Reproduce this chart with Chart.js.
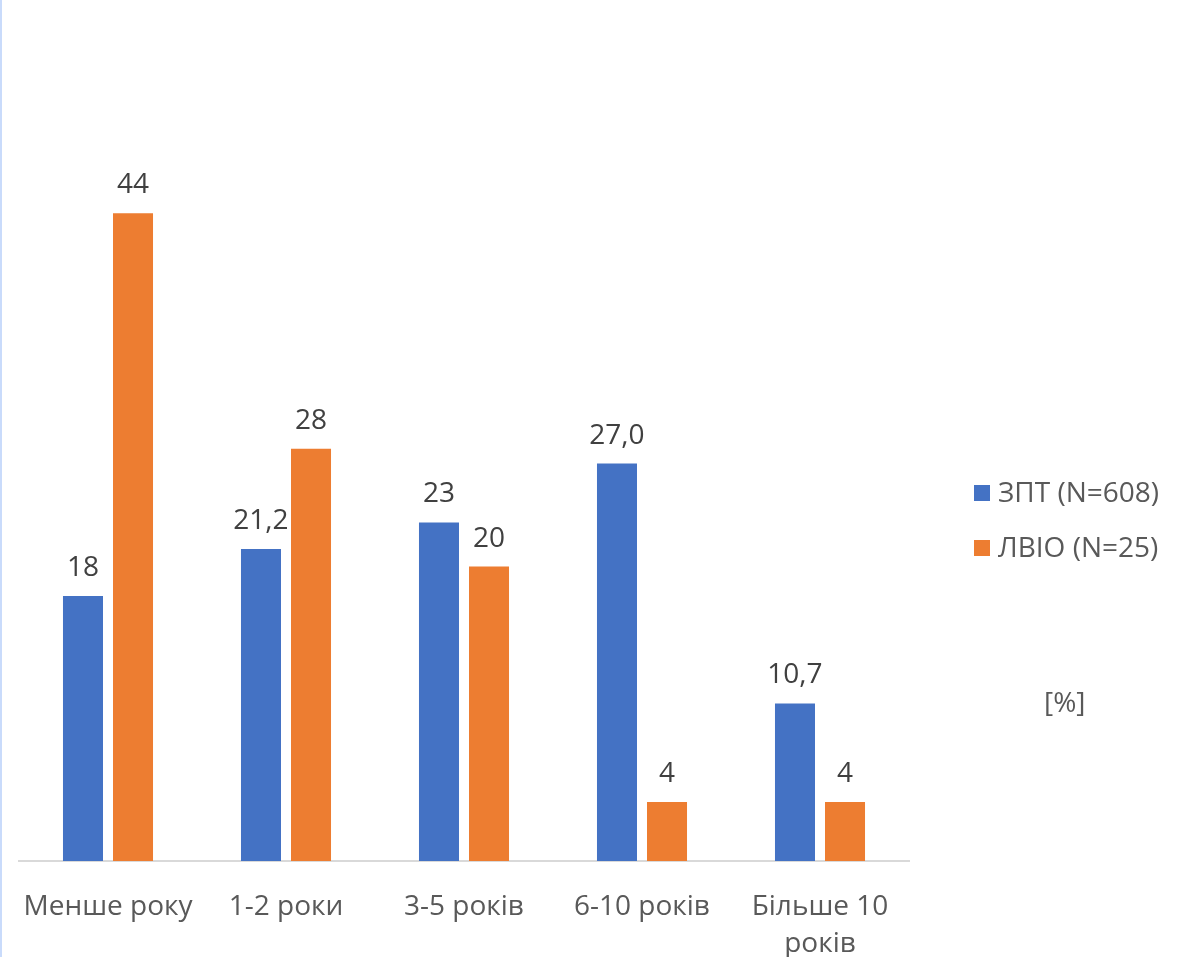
<!DOCTYPE html>
<html>
<head>
<meta charset="utf-8">
<script src="https://cdn.jsdelivr.net/npm/chart.js@4/dist/chart.umd.min.js"></script>
<style>
  html, body { margin: 0; padding: 0; background: #fff; }
  #wrap { position: relative; width: 1180px; height: 957px; overflow: hidden; }
  #edge { position: absolute; left: 0; top: 0; width: 2px; height: 957px; background: #c9dbfb; }
  canvas { position: absolute; left: 0; top: 0; }
  .lg { position: absolute; font-family: "Open Sans", sans-serif; font-size: 28px; color: #595959; white-space: nowrap; line-height: 1; }
  .sw { position: absolute; width: 16px; height: 16px; }
</style>
</head>
<body>
<div id="wrap">
  <canvas id="c" width="1180" height="957"></canvas>
  <div id="edge"></div>
  <div class="sw" id="sw0" style="left:974px; top:485px;"></div>
  <div class="lg" id="lg0" style="left:998px; top:477px;"></div>
  <div class="sw" id="sw1" style="left:974px; top:540px;"></div>
  <div class="lg" id="lg1" style="left:998px; top:532px;"></div>
  <div class="lg" id="unit" style="left:1044px; top:687px;">[%]</div>
</div>
<script>
// Categories (multi-line labels as arrays)
const categories = ['Менше року', '1-2 роки', '3-5 років', '6-10 років', ['Більше 10', 'років']];

// Series names
const seriesNames = ['ЗПТ (N=608)', 'ЛВІО (N=25)'];

// Series values, percent
const valuesZPT = [18, 21.2, 23, 27.0, 10.7];
const valuesLVIO = [44, 28, 20, 4, 4];

// Value labels shown above the bars
const labelsZPT = ['18', '21,2', '23', '27,0', '10,7'];
const labelsLVIO = ['44', '28', '20', '4', '4'];

const colors = ['#4472C4', '#ED7D31'];
const FONT = '"Open Sans", sans-serif';

document.getElementById('sw0').style.background = colors[0];
document.getElementById('sw1').style.background = colors[1];
document.getElementById('lg0').textContent = seriesNames[0];
document.getElementById('lg1').textContent = seriesNames[1];

// Draws each bar's value label above it
const valueLabels = {
  id: 'valueLabels',
  afterDatasetsDraw(chart) {
    const ctx = chart.ctx;
    ctx.save();
    ctx.font = '28px ' + FONT;
    ctx.fillStyle = '#404040';
    ctx.textAlign = 'center';
    ctx.textBaseline = 'middle';
    chart.data.datasets.forEach((ds, i) => {
      const meta = chart.getDatasetMeta(i);
      meta.data.forEach((bar, j) => {
        ctx.fillText(ds.valueLabels[j], bar.x, bar.y - 28);
      });
    });
    ctx.restore();
  }
};

new Chart(document.getElementById('c'), {
  type: 'bar',
  data: {
    labels: categories,
    datasets: [
      { label: seriesNames[0], data: valuesZPT, valueLabels: labelsZPT, backgroundColor: colors[0] },
      { label: seriesNames[1], data: valuesLVIO, valueLabels: labelsLVIO, backgroundColor: colors[1] }
    ]
  },
  options: {
    responsive: false,
    animation: false,
    devicePixelRatio: 1,
    layout: { padding: { left: 19, right: 271, top: 125, bottom: 0 } },
    datasets: { bar: { categoryPercentage: 0.562, barPercentage: 0.8 } },
    plugins: { legend: { display: false }, tooltip: { enabled: false } },
    scales: {
      x: {
        grid: { display: false, drawTicks: false },
        border: { display: true, color: '#d9d9d9', width: 2 },
        ticks: {
          color: '#595959',
          font: { family: FONT, size: 28, lineHeight: 1.3 },
          padding: 28,
          maxRotation: 0,
          autoSkip: false
        },
        afterFit(scale) {
          scale.height = 96;
          scale.paddingLeft = 0;
          scale.paddingRight = 0;
        }
      },
      y: {
        display: false,
        min: 0,
        max: 50
      }
    }
  },
  plugins: [valueLabels]
});
</script>
</body>
</html>
